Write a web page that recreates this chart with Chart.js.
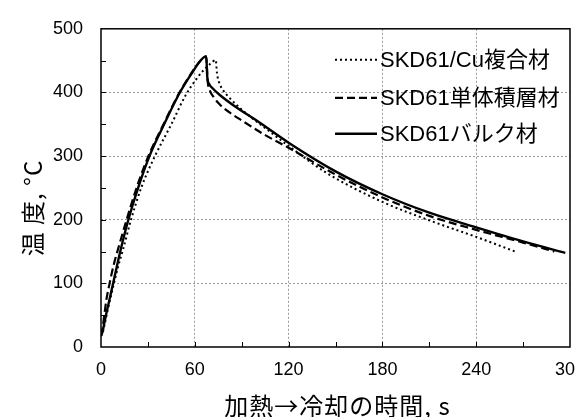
<!DOCTYPE html>
<html>
<head>
<meta charset="utf-8">
<script src="https://cdn.jsdelivr.net/npm/chart.js@4/dist/chart.umd.min.js"></script>
<style>
  html, body { margin: 0; padding: 0; background: #fff; overflow: hidden; }
  #wrap { width: 575px; height: 417px; overflow: hidden; position: relative; }
  canvas { display: block; }
</style>
</head>
<body>
<div id="wrap"><canvas id="c" width="600" height="417" style="width:600px;height:417px"></canvas></div>
<script>
// ---- data (time in s, temperature in °C) ----
const seriesNames = ['SKD61/Cu複合材', 'SKD61単体積層材', 'SKD61バルク材'];

const timeCu = [0, 1, 2, 4, 8.3, 11, 14.3, 19.2, 26, 34.5, 45, 54, 61, 66, 70, 73.4, 74.2, 75.5, 78, 82, 91, 104, 120, 144, 180, 210, 240, 266];
const tempCu = [17, 22, 32, 55, 100, 127, 155, 200, 252, 300, 350, 395, 421, 436, 445, 451, 430, 416, 404, 392, 371, 346, 316, 274, 228, 199, 173, 149];

const timeLam = [0, 1, 2, 3.5, 5.5, 8, 10.7, 16.4, 23, 30.3, 40, 50, 58, 64, 67.3, 68.2, 69.5, 72, 76, 82, 90, 105, 120, 150, 180, 210, 240, 270, 290];
const tempLam = [18, 30, 48, 75, 100, 128, 152, 200, 252, 300, 350, 399, 431, 451, 456, 418, 404, 393, 381, 369, 356, 333, 313, 271, 235, 206, 184, 164, 150];

const timeBulk = [0, 1, 2, 3, 5, 7, 10, 12.5, 17.5, 24, 31, 40, 50, 58, 64, 67.3, 68, 69.3, 72, 76, 84.6, 100, 120, 150, 180, 210, 240, 270, 297];
const tempBulk = [18, 24, 36, 48, 70, 92, 125, 152, 200, 252, 300, 348, 398, 430, 451, 457, 424, 413, 405, 396, 380, 355, 321, 276, 240, 211, 188, 166, 148];

const xTicks = [0, 60, 120, 180, 240, 300];
const yTicks = [0, 100, 200, 300, 400, 500];
const xTitle = '加熱→冷却の時間, s';
const yTitle = '温 度, °C';

const toXY = (xs, ys) => xs.map((x, i) => ({ x: x, y: ys[i] }));

const styles = [
  { dash: [2, 3], width: 2 },
  { dash: [8, 4], width: 2.2 },
  { dash: [], width: 2.4 }
];

const frameAndExtras = {
  id: 'frameAndExtras',
  afterDatasetsDraw(chart) {
    const { ctx, chartArea: ca, scales } = chart;
    const xs = scales.x, ys = scales.y;
    ctx.save();
    // inward minor ticks
    ctx.strokeStyle = '#000';
    ctx.lineWidth = 1;
    ctx.setLineDash([]);
    for (let v = 30; v < 300; v += 30) {
      const px = Math.round(xs.getPixelForValue(v)) + 0.5;
      ctx.beginPath(); ctx.moveTo(px, ca.bottom); ctx.lineTo(px, ca.bottom - 5); ctx.stroke();
    }
    for (let v = 50; v < 500; v += 50) {
      const py = Math.round(ys.getPixelForValue(v)) + 0.5;
      ctx.beginPath(); ctx.moveTo(ca.left, py); ctx.lineTo(ca.left + 5, py); ctx.stroke();
    }
    // frame
    ctx.lineWidth = 1.5;
    ctx.strokeRect(ca.left, ca.top, ca.right - ca.left, ca.bottom - ca.top);

    // legend
    const lx0 = ca.right - 235, lx1 = ca.right - 193, tx = ca.right - 190;
    const rows = [ca.top + 31, ca.top + 69, ca.top + 105];
    ctx.font = '22px "Liberation Sans", "Noto Sans CJK JP", sans-serif';
    ctx.textBaseline = 'middle';
    ctx.textAlign = 'left';
    ctx.fillStyle = '#000';
    chart.data.datasets.forEach((ds, i) => {
      ctx.lineWidth = ds.borderWidth;
      ctx.setLineDash(ds.borderDash || []);
      ctx.beginPath(); ctx.moveTo(lx0, rows[i]); ctx.lineTo(lx1, rows[i]); ctx.stroke();
      ctx.setLineDash([]);
      ctx.fillText(ds.label, tx, rows[i] + 1);
    });

    // axis titles
    ctx.fillStyle = '#000';
    ctx.font = '24px "Noto Sans CJK JP", sans-serif';
    ctx.textAlign = 'center';
    ctx.textBaseline = 'middle';
    try { ctx.letterSpacing = '1px'; } catch (e) {}
    ctx.fillText(xTitle, (ca.left + ca.right) / 2 + 2, 406);
    ctx.save();
    ctx.translate(33, 208);
    ctx.rotate(-Math.PI / 2);
    ctx.fillText(yTitle, 0, 0);
    ctx.restore();
    ctx.restore();
  }
};

new Chart(document.getElementById('c'), {
  type: 'line',
  data: {
    datasets: [
      { label: seriesNames[0], data: toXY(timeCu, tempCu) },
      { label: seriesNames[1], data: toXY(timeLam, tempLam) },
      { label: seriesNames[2], data: toXY(timeBulk, tempBulk) }
    ].map((d, i) => Object.assign(d, {
      borderColor: '#000',
      backgroundColor: '#000',
      borderWidth: styles[i].width,
      borderDash: styles[i].dash,
      pointRadius: 0,
      fill: false,
      cubicInterpolationMode: 'monotone',
      borderCapStyle: 'butt',
      borderJoinStyle: 'round'
    }))
  },
  plugins: [frameAndExtras],
  options: {
    responsive: false,
    animation: false,
    layout: { padding: { top: 17, right: 30, left: 0, bottom: 0 } },
    plugins: { legend: { display: false }, tooltip: { enabled: false } },
    scales: {
      x: {
        type: 'linear',
        min: 0, max: 300,
        afterBuildTicks: s => { s.ticks = []; for (let v = 0; v <= 300; v += 30) s.ticks.push({ value: v }); },
        afterFit: s => { s.height = 70; },
        ticks: {
          autoSkip: false, maxRotation: 0, padding: 12,
          color: '#000',
          font: { family: '"Liberation Sans", Arial, sans-serif', size: 18 },
          callback: v => xTicks.includes(v) ? String(v) : ''
        },
        grid: {
          drawTicks: false,
          lineWidth: 1,
          color: c => (c.tick && xTicks.includes(c.tick.value) && c.tick.value > 0 && c.tick.value < 300) ? '#9a9a9a' : 'rgba(0,0,0,0)'
        },
        border: { display: false, dash: [2, 2] }
      },
      y: {
        type: 'linear',
        min: 0, max: 500,
        afterBuildTicks: s => { s.ticks = []; for (let v = 0; v <= 500; v += 50) s.ticks.push({ value: v }); },
        afterFit: s => { s.width = 101; },
        ticks: {
          autoSkip: false, padding: 18,
          color: '#000',
          font: { family: '"Liberation Sans", Arial, sans-serif', size: 18 },
          callback: v => yTicks.includes(v) ? String(v) : ''
        },
        grid: {
          drawTicks: false,
          lineWidth: 1,
          color: c => (c.tick && yTicks.includes(c.tick.value) && c.tick.value > 0 && c.tick.value < 500) ? '#9a9a9a' : 'rgba(0,0,0,0)'
        },
        border: { display: false, dash: [2, 2] }
      }
    }
  }
});
</script>
</body>
</html>
